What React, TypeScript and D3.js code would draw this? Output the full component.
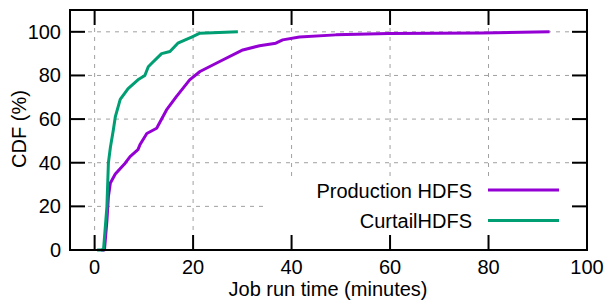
import React, { useEffect, useRef } from "react";
import * as d3 from "d3";

// Production HDFS: job run time (minutes) vs CDF (%)
const prodMinutes = [1.35, 2.0, 2.5, 2.8, 3.2, 4.2, 6.2, 7.2, 8.8, 9.2, 10.6, 12.6, 14.6, 16.6, 19.3, 21.4, 25.4, 30.1, 33.5, 36.8, 38.2, 41.6, 49, 59.7, 78.5, 92.4];
const prodCdf = [0, 0, 13.5, 24.5, 30.7, 34.8, 39.8, 42.8, 46, 48.2, 53.4, 55.8, 64.2, 70.3, 78, 81.8, 86.4, 91.7, 93.6, 94.8, 96.3, 97.6, 98.6, 99.2, 99.5, 100];

// CurtailHDFS
const curtMinutes = [0.5, 1.8, 2.5, 2.8, 3.2, 3.8, 4.2, 5.2, 6.8, 8.8, 10.2, 10.9, 11.6, 13.6, 15.3, 16.9, 19.7, 21.4, 29.1];
const curtCdf = [0, 0, 20, 40, 47, 55, 61, 69, 74, 78, 80, 84, 85.6, 90, 91, 94.8, 97.6, 99.4, 100];

const xTicks = [0, 20, 40, 60, 80, 100];
const yTicks = [0, 20, 40, 60, 80, 100];
const seriesNames = ["Production HDFS", "CurtailHDFS"];
const seriesColors = ["#9400d3", "#009e73"];

const W = 605;
const H = 300;
const FONT = "'Liberation Sans', Arial, sans-serif";

export default function App() {
  const svgRef = useRef<SVGSVGElement>(null);

  useEffect(() => {
    const svg = d3.select(svgRef.current);
    svg.selectAll("*").remove();

    const left = 70, right = 587, top = 10, bottom = 250;
    const x = d3.scaleLinear().domain([-5, 100]).range([left, right]);
    const y = d3.scaleLinear().domain([0, 110]).range([bottom, top]);

    // grid
    const grid = svg.append("g").attr("stroke", "#a0a0a0").attr("stroke-width", 1).attr("stroke-dasharray", "4,5");
    xTicks.slice(0, -1).forEach((t) => {
      grid.append("line").attr("x1", x(t)).attr("x2", x(t)).attr("y1", top).attr("y2", bottom);
    });
    yTicks.slice(1).forEach((t) => {
      grid.append("line").attr("x1", left).attr("x2", right).attr("y1", y(t)).attr("y2", y(t));
    });

    // opaque key box
    svg.append("rect").attr("x", 263).attr("y", 176).attr("width", right - 263).attr("height", bottom - 176).attr("fill", "white");

    // curves
    const line = d3.line<[number, number]>().x((d) => x(d[0])).y((d) => y(d[1]));
    const series = [
      prodMinutes.map((m, i) => [m, prodCdf[i]] as [number, number]),
      curtMinutes.map((m, i) => [m, curtCdf[i]] as [number, number]),
    ];
    series.forEach((s, i) => {
      svg.append("path").attr("d", line(s)).attr("fill", "none")
        .attr("stroke", seriesColors[i]).attr("stroke-width", 3).attr("stroke-linejoin", "round");
    });

    // border and ticks
    const axis = svg.append("g").attr("stroke", "black").attr("stroke-width", 2);
    axis.append("rect").attr("x", left).attr("y", top).attr("width", right - left).attr("height", bottom - top).attr("fill", "none");
    const tl = 15;
    xTicks.slice(0, -1).forEach((t) => {
      axis.append("line").attr("x1", x(t)).attr("x2", x(t)).attr("y1", bottom).attr("y2", bottom - tl);
      axis.append("line").attr("x1", x(t)).attr("x2", x(t)).attr("y1", top).attr("y2", top + tl);
    });
    yTicks.slice(1).forEach((t) => {
      axis.append("line").attr("x1", left).attr("x2", left + tl).attr("y1", y(t)).attr("y2", y(t));
      axis.append("line").attr("x1", right).attr("x2", right - tl).attr("y1", y(t)).attr("y2", y(t));
    });

    // tick labels
    const txt = svg.append("g").attr("font-family", FONT).attr("font-size", 20).attr("fill", "#000");
    xTicks.forEach((t) => {
      txt.append("text").attr("x", x(t)).attr("y", 274).attr("text-anchor", "middle").text(t);
    });
    yTicks.forEach((t) => {
      txt.append("text").attr("x", 61).attr("y", y(t) + 7).attr("text-anchor", "end").text(t);
    });

    // axis titles
    txt.append("text").attr("x", (left + right) / 2 - 0.5).attr("y", 296).attr("text-anchor", "middle").text("Job run time (minutes)");
    txt.append("text").attr("transform", `translate(26, 129) rotate(-90)`).attr("text-anchor", "middle").text("CDF (%)");

    // legend
    seriesNames.forEach((name, i) => {
      const ly = 190 + i * 30.5;
      txt.append("text").attr("x", 472).attr("y", ly + 7.5).attr("text-anchor", "end").text(name);
      svg.append("line").attr("x1", 488).attr("x2", 559).attr("y1", ly).attr("y2", ly)
        .attr("stroke", seriesColors[i]).attr("stroke-width", 3);
    });
  }, []);

  return (
    <svg ref={svgRef} width={W} height={H} style={{ position: "absolute", left: 0, top: 0, background: "white" }} />
  );
}
